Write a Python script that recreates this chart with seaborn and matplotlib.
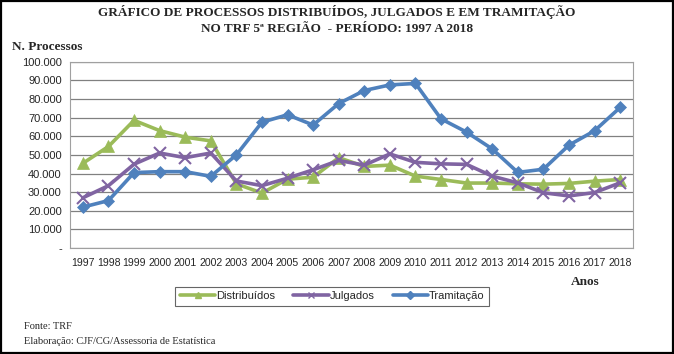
import matplotlib
matplotlib.use("Agg")
import matplotlib.pyplot as plt
import seaborn as sns
import pandas as pd
from matplotlib.ticker import FuncFormatter, FixedLocator
from matplotlib.patches import Rectangle
from matplotlib.lines import Line2D

anos = [str(a) for a in range(1997, 2019)]
distribuidos = [45500, 54500, 68500, 63000, 59500, 57500, 34500, 29500, 37000, 38000, 48500,
                43800, 44500, 38600, 36800, 34900, 34900, 34500, 34300, 34700, 35900, 36800]
julgados = [27000, 33500, 45000, 51000, 48500, 51000, 36000, 33500, 37500, 42000, 47000,
            44500, 50500, 46000, 45200, 44900, 38600, 35000, 29700, 28000, 29800, 35000]
tramitacao = [22000, 25500, 40500, 41000, 41000, 38500, 50000, 67500, 71500, 66000, 77500,
              84500, 87500, 88300, 69300, 62200, 53200, 40600, 42300, 55200, 62900, 75400]

series = ["Distribuídos", "Julgados", "Tramitação"]
cores = {"Distribuídos": "#9BBB59", "Julgados": "#8064A2", "Tramitação": "#4F81BD"}
marcas = {"Distribuídos": "^", "Julgados": "x", "Tramitação": "D"}

df = pd.DataFrame({"pos": list(range(len(anos))) * 3,
                   "serie": [s for s in series for _ in anos],
                   "valor": distribuidos + julgados + tramitacao})

sns.set_style("white")
plt.rcParams["font.family"] = ["Liberation Sans", "DejaVu Sans"]

fig = plt.figure(figsize=(6.74, 3.54), dpi=100)
ax = fig.add_axes([0.104, 0.299, 0.835, 0.527])

for s in series:
    d = df[df.serie == s]
    sns.lineplot(data=d, x="pos", y="valor", color=cores[s], marker=marcas[s],
                 markersize=8 if s != "Tramitação" else 6.5,
                 markeredgewidth=1.5 if s == "Julgados" else 0.5,
                 markeredgecolor=cores[s], linewidth=2.6, ax=ax, legend=False)

ax.set_xlim(-0.5, len(anos) - 0.5)
ax.set_ylim(0, 100000)
ax.set_yticks(range(0, 100001, 10000))
ax.yaxis.set_major_formatter(FuncFormatter(
    lambda v, p: "-" if v == 0 else f"{int(v):,}".replace(",", ".")))
ax.set_xticks(range(len(anos)))
ax.set_xticklabels(anos)
ax.xaxis.set_minor_locator(FixedLocator([i - 0.5 for i in range(len(anos) + 1)]))
ax.tick_params(axis="x", which="major", length=0, labelsize=7.6, pad=7)
ax.tick_params(axis="x", which="minor", length=4, width=0.8, color="#808080", direction="out")
ax.tick_params(axis="y", length=4, width=0.8, color="#808080", direction="out", labelsize=8, pad=2)
ax.grid(axis="y", color="#808080", linewidth=0.9)
ax.set_axisbelow(True)
for sp in ax.spines.values():
    sp.set_color("#a0a0a0")
    sp.set_linewidth(0.8)
ax.set_xlabel("")
ax.set_ylabel("")

serif = ["Liberation Serif", "DejaVu Serif"]
fig.text(0.5, 0.965, "GRÁFICO DE PROCESSOS DISTRIBUÍDOS, JULGADOS E EM TRAMITAÇÃO",
         ha="center", va="center", family=serif, weight="bold", fontsize=9.5)
fig.text(0.5, 0.918, "NO TRF 5ª REGIÃO  - PERÍODO: 1997 A 2018",
         ha="center", va="center", family=serif, weight="bold", fontsize=9.5)
fig.text(0.018, 0.868, "N. Processos", ha="left", va="center", family=serif,
         weight="bold", fontsize=9.5)
fig.text(0.868, 0.203, "Anos", ha="center", va="center", family=serif,
         weight="bold", fontsize=9.5)

handles = [Line2D([], [], color=cores[s], marker=marcas[s], markersize=4,
                  markeredgewidth=1, linewidth=2.6) for s in series]
leg = fig.legend(handles, series, ncol=3, loc="center", bbox_to_anchor=(0.493, 0.163),
                 frameon=True, fancybox=False, fontsize=8, handlelength=3.2,
                 handletextpad=0.1, columnspacing=1.6, borderpad=0.4)
leg.get_frame().set_edgecolor("#404040")
leg.get_frame().set_linewidth(0.8)

fig.text(0.035, 0.078, "Fonte: TRF", family=serif, fontsize=7.5, va="center")
fig.text(0.035, 0.035, "Elaboração: CJF/CG/Assessoria de Estatística", family=serif,
         fontsize=7.5, va="center")

fig.patches.append(Rectangle((0.002, 0.003), 0.996, 0.994, transform=fig.transFigure,
                             fill=False, edgecolor="black", linewidth=1.6))

fig.savefig("out.png", dpi=100)
